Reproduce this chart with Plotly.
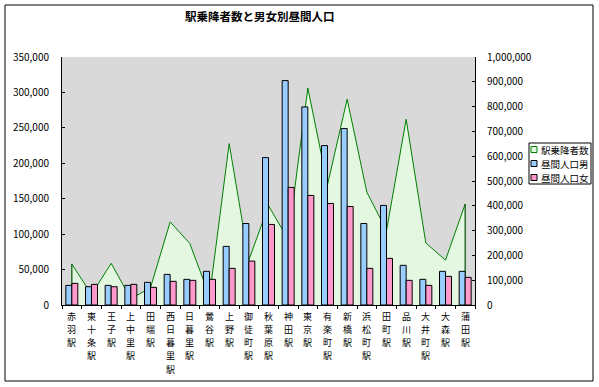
import plotly.graph_objects as go

stations = ["赤羽駅", "東十条駅", "王子駅", "上中里駅", "田端駅", "西日暮里駅", "日暮里駅",
            "鶯谷駅", "上野駅", "御徒町駅", "秋葉原駅", "神田駅", "東京駅", "有楽町駅",
            "新橋駅", "浜松町駅", "田町駅", "品川駅", "大井町駅", "大森駅", "蒲田駅"]

riders = [165000, 43000, 168000, 25000, 70000, 335000, 248000, 35000, 651000, 181000,
          400000, 265000, 875000, 485000, 830000, 455000, 300000, 749000, 250000, 181000, 407000]

male = [27700, 25800, 27700, 27700, 32000, 43200, 36200, 47500, 82700, 115000, 208000,
        316700, 279500, 225000, 249000, 115000, 140500, 56000, 36200, 47500, 47500]

female = [30500, 29100, 25800, 29100, 24900, 33400, 34800, 36200, 51700, 62000, 113700,
          165900, 154600, 143300, 139000, 51700, 65800, 34800, 27700, 40400, 39000]

series_names = ["駅乗降者数", "昼間人口男", "昼間人口女"]
title_text = "駅乗降者数と男女別昼間人口"

left_ticks = list(range(0, 350001, 50000))
right_ticks = list(range(0, 1000001, 100000))

W, H = 599, 387
L, R, T, B = 62, 124, 57, 82
PW, PH = W - L - R, H - T - B


def px(x):
    return (x - L) / PW


def py(y):
    return (H - B - y) / PH


font = "Noto Sans CJK JP"
GREEN = "#008000"
AREA_FILL = "#e3f7e1"
BLUE = "#99ccff"
PINK = "#ff99cc"

fig = go.Figure()

# area series on the base (right) axis -> drawn beneath the bars
fig.add_trace(go.Scatter(
    x=stations, y=riders, name=series_names[0], mode="lines",
    line=dict(color=GREEN, width=1), fill="tozeroy", fillcolor=AREA_FILL,
    yaxis="y", showlegend=False,
))
for idx in (0, -1):
    fig.add_trace(go.Scatter(
        x=[stations[idx], stations[idx]], y=[0, riders[idx]], mode="lines",
        line=dict(color="#005000", width=1.2), showlegend=False, hoverinfo="skip",
        yaxis="y",
    ))

fig.add_trace(go.Bar(
    x=stations, y=male, name=series_names[1], yaxis="y2", showlegend=False,
    marker=dict(color=BLUE, line=dict(color="black", width=1)),
))
fig.add_trace(go.Bar(
    x=stations, y=female, name=series_names[2], yaxis="y2", showlegend=False,
    marker=dict(color=PINK, line=dict(color="black", width=1)),
))

annotations = []
# title
annotations.append(dict(
    text="<b>" + title_text + "</b>", xref="paper", yref="paper",
    x=px(260), y=py(16), xanchor="center", yanchor="middle", showarrow=False,
    font=dict(size=11.5, family=font, color="black"),
))
# vertical category labels, one character per line
for s in stations:
    for j, ch in enumerate(s):
        annotations.append(dict(
            text=ch, xref="x", yref="paper", x=s, y=py(316 + 13.3 * j),
            xanchor="center", yanchor="middle", showarrow=False,
            font=dict(size=9, family=font, color="black"),
        ))

shapes = []
# legend box
lx0, lx1, ly0, ly1 = 529, 591, 143, 184
shapes.append(dict(type="rect", xref="paper", yref="paper",
                   x0=px(lx0), x1=px(lx1), y0=py(ly1), y1=py(ly0),
                   line=dict(color="black", width=1), fillcolor="white", layer="above"))
legend_rows = [(series_names[0], AREA_FILL, GREEN),
               (series_names[1], BLUE, "black"),
               (series_names[2], PINK, "black")]
for k, (name, fc, lc) in enumerate(legend_rows):
    cy = 149.5 + 14 * k
    shapes.append(dict(type="rect", xref="paper", yref="paper",
                       x0=px(531), x1=px(537), y0=py(cy + 3), y1=py(cy - 3),
                       line=dict(color=lc, width=1), fillcolor=fc, layer="above"))
    annotations.append(dict(
        text=name, xref="paper", yref="paper", x=px(538.5), y=py(cy),
        xanchor="left", yanchor="middle", showarrow=False,
        font=dict(size=9.5, family=font, color="black"),
    ))
# outer chart border
shapes.append(dict(type="rect", xref="paper", yref="paper",
                   x0=px(5), x1=px(593), y0=py(381), y1=py(5),
                   line=dict(color="black", width=1), fillcolor="rgba(0,0,0,0)",
                   layer="below"))

fig.update_layout(
    width=W, height=H,
    margin=dict(l=L, r=R, t=T, b=B, pad=0),
    paper_bgcolor="white",
    plot_bgcolor="#d9d9d9",
    font=dict(family=font, size=10, color="black"),
    barmode="group", bargap=0.39, bargroupgap=0,
    showlegend=False,
    hovermode=False,
    xaxis=dict(
        tickmode="array", tickvals=stations, showticklabels=False,
        showline=True, linecolor="black", linewidth=1,
        ticks="outside", ticklen=3, tickcolor="black", tickson="boundaries",
        showgrid=False, range=[-0.5, len(stations) - 0.5],
    ),
    yaxis=dict(
        side="right", range=[0, 1000000], tickvals=right_ticks, tickformat=",d",
        showline=True, linecolor="black", linewidth=1,
        ticks="inside", ticklen=3, tickcolor="black", showgrid=False, zeroline=False,
        ticklabelstandoff=9,
    ),
    yaxis2=dict(
        side="left", overlaying="y", range=[0, 350000], tickvals=left_ticks, tickformat=",d",
        showline=True, linecolor="black", linewidth=1,
        ticks="inside", ticklen=3, tickcolor="black", showgrid=False, zeroline=False,
        ticklabelstandoff=10,
    ),
    annotations=annotations,
    shapes=shapes,
)

# remove the browser's default 8px body margin so the figure sits at the page origin
fig.write_html("out.html", config={"displayModeBar": False},
               post_script="document.body.style.margin='0px';")
